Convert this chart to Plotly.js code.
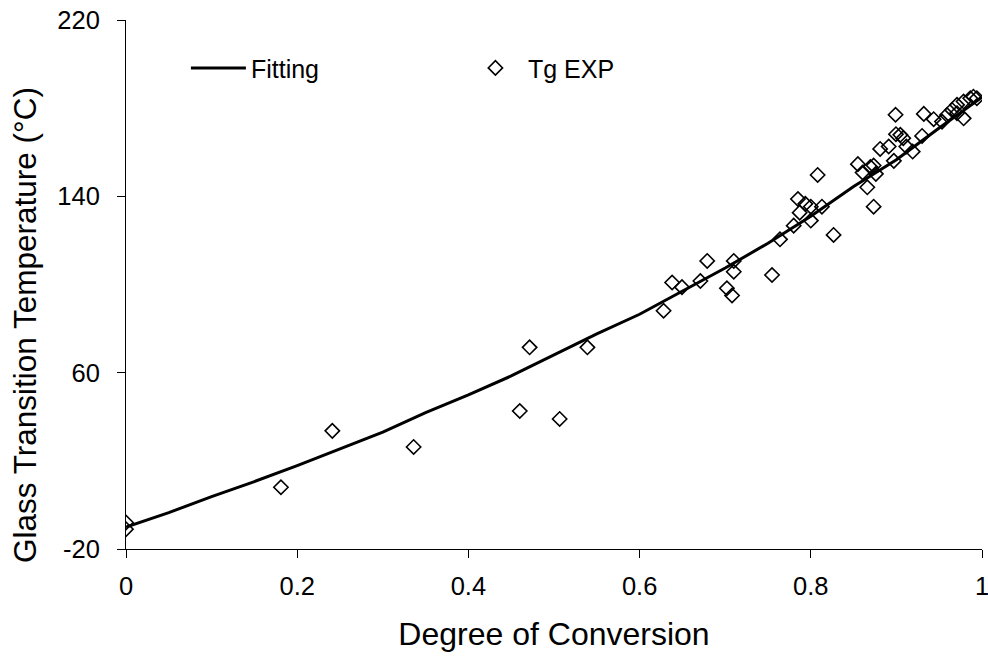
<!DOCTYPE html>
<html>
<head>
<meta charset="utf-8">
<script src="https://cdn.plot.ly/plotly-3.0.1.min.js"></script>
<style>
html,body{margin:0;padding:0;background:#fff;}
#chart{width:988px;height:658px;}
</style>
</head>
<body>
<div id="chart"></div>
<script>
// Fitting curve
var fitX = [0,0.05,0.1,0.15,0.2,0.25,0.3,0.35,0.4,0.45,0.5,0.55,0.6,0.65,0.7,0.75,0.8,0.85,0.9,0.95,1.0];
var fitY = [-10,-3.5,3.8,10.6,17.8,25.3,33,41.9,49.9,58.5,68,77.6,86.5,97,107.5,118.7,131,144.5,156.6,171,185];

// Experimental Tg
var expX = [0,0,0.181,0.241,0.336,0.460,0.4715,0.5066,0.539,0.628,0.638,0.6495,0.671,0.679,0.702,0.708,0.710,0.710,0.7547,0.764,
  0.780,0.785,0.787,0.7936,0.800,0.800,0.808,0.813,0.8266,0.855,0.8605,0.866,0.8696,0.8734,0.8734,0.876,0.881,0.891,0.897,0.899,
  0.8995,0.9046,0.908,0.9116,0.919,0.930,0.932,0.9435,0.9533,0.9591,0.965,0.9708,0.9708,0.9785,0.9785,0.9863,0.990,0.994];
var expY = [-8,-11,8,33.6,26.3,42.6,71.5,39,71.5,88.1,100.9,98.8,101.6,110.7,98.3,95,110.7,105.8,104.3,120.5,
  126.7,138.8,132.6,136.6,135.3,129,149.7,135.3,122.5,154.6,150.8,144.1,153.3,154,135.3,150.2,161.5,162.6,156.1,177,
  168.2,167.9,166.4,162.6,160.3,167.4,177.4,175,173.9,176.9,179.2,181.5,177.7,183,175.4,184.5,185.2,184.5];

var xTicks = [0,0.2,0.4,0.6,0.8,1];
var xTickText = ['0','0.2','0.4','0.6','0.8','1'];
var yTicks = [-20,60,140,220];
var yTickText = ['-20','60','140','220'];
var yTitle = 'Glass Transition Temperature (°C)';

var font = 'Liberation Sans, Arial, sans-serif';

var traces = [
  {x: fitX, y: fitY, type: 'scatter', mode: 'lines', name: 'Fitting',
   line: {color: '#000', width: 3}},
  {x: expX, y: expY, type: 'scatter', mode: 'markers', name: 'Tg EXP',
   marker: {symbol: 'diamond-open', size: 11, color: '#000', line: {color: '#000', width: 1.6}}}
];

var layout = {
  width: 988, height: 658,
  margin: {l: 126, r: 6, t: 20, b: 109},
  paper_bgcolor: '#fff', plot_bgcolor: '#fff',
  font: {family: font, color: '#000', size: 25},
  showlegend: true,
  legend: {orientation: 'h', x: 0.07, y: 0.909, xanchor: 'left', yanchor: 'middle',
           bgcolor: 'rgba(0,0,0,0)', borderwidth: 0, entrywidth: 207, itemwidth: 55,
           font: {family: font, size: 25, color: '#000'}},
  xaxis: {range: [0, 1], tickvals: xTicks, ticktext: xTickText, ticks: 'outside', ticklen: 8,
          tickwidth: 1, tickcolor: '#000', showline: true, linecolor: '#000', linewidth: 1,
          showgrid: false, zeroline: false, ticklabelstandoff: 6, ticklabeloverflow: 'allow',
          tickfont: {family: font, size: 25.5, color: '#000'},
          title: {text: 'Degree of Conversion', font: {family: font, size: 32, color: '#000'}, standoff: 24}},
  yaxis: {range: [-20, 220], tickvals: yTicks, ticktext: yTickText, ticks: 'outside', ticklen: 8,
          tickwidth: 1, tickcolor: '#000', showline: true, linecolor: '#000', linewidth: 1,
          showgrid: false, zeroline: false, ticklabelstandoff: 12, ticklabeloverflow: 'allow',
          tickfont: {family: font, size: 25.5, color: '#000'}},
  annotations: [
    {text: yTitle, xref: 'paper', yref: 'paper', x: -0.118, y: 0.4234, xanchor: 'center', yanchor: 'middle',
     textangle: -90, showarrow: false, font: {family: font, size: 31.5, color: '#000'}}
  ]
};

Plotly.newPlot('chart', traces, layout, {displayModeBar: false, staticPlot: true});
</script>
</body>
</html>
